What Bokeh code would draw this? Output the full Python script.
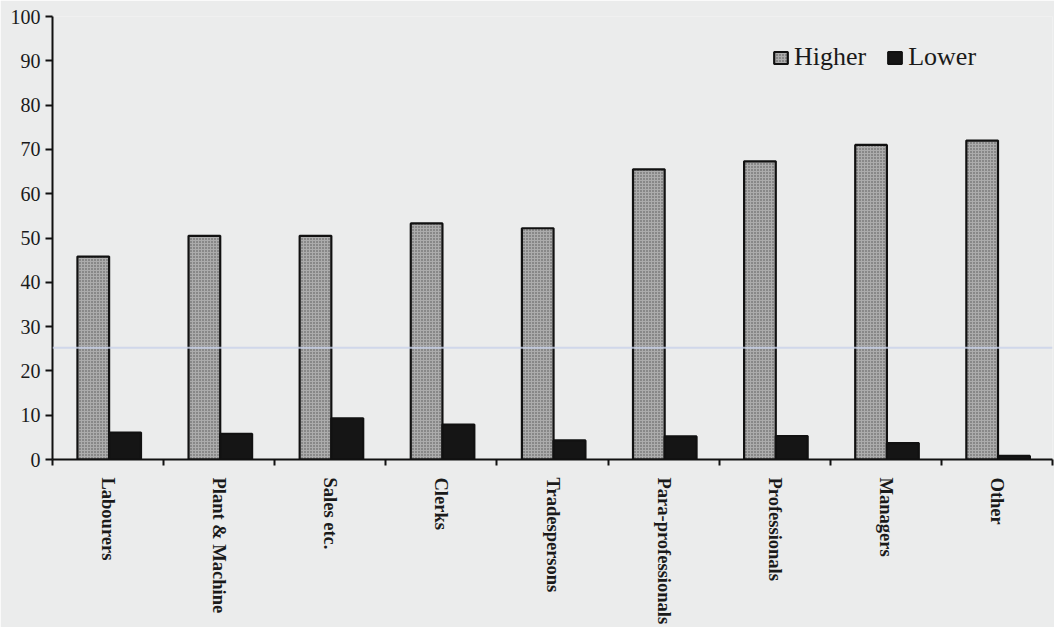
from bokeh.plotting import figure
from bokeh.models import (ColumnDataSource, FixedTicker, Range1d, Legend, LegendItem, Span)
from bokeh.transform import dodge
from bokeh.embed import file_html
from bokeh.resources import INLINE

categories = ["Labourers", "Plant & Machine", "Sales etc.", "Clerks", "Tradespersons",
              "Para-professionals", "Professionals", "Managers", "Other"]
higher = [45.8, 50.5, 50.5, 53.3, 52.2, 65.5, 67.3, 71.0, 72.0]
lower = [6.1, 5.8, 9.3, 7.9, 4.3, 5.2, 5.3, 3.7, 0.8]
y_ticks = list(range(0, 101, 10))

centers = [i + 0.5 for i in range(len(categories))]
source = ColumnDataSource(dict(x=centers, higher=higher, lower=lower))

BG = "#ebecec"
FONT = "Liberation Serif"

p = figure(width=1054, height=627, output_backend="svg", toolbar_location=None,
           x_range=Range1d(0, len(categories)), y_range=Range1d(0, 100),
           min_border_left=52, min_border_right=2, min_border_top=16, min_border_bottom=166,
           background_fill_color=BG, border_fill_color=BG)
p.outline_line_color = None
p.grid.visible = False

# faint scan line
p.add_layout(Span(location=25.2, dimension="width", line_color="#c9d2ea", line_width=2, line_alpha=0.8))

r_hi = p.vbar(x=dodge("x", -0.133, range=p.x_range), top="higher", width=0.285, source=source,
              fill_color="#acacac", hatch_pattern="dot", hatch_color="#3a3a3a", hatch_scale=3,
              hatch_alpha=0.8, line_color="#111111", line_width=2.2)
r_lo = p.vbar(x=dodge("x", 0.153, range=p.x_range), top="lower", width=0.287, source=source,
              fill_color="#151515", line_color="#111111", line_width=2.2)

# y axis
p.yaxis.ticker = FixedTicker(ticks=y_ticks)
p.yaxis.axis_line_width = 2
p.yaxis.axis_line_color = "#111111"
p.yaxis.major_tick_line_width = 2
p.yaxis.major_tick_line_color = "#111111"
p.yaxis.major_tick_out = 7
p.yaxis.major_tick_in = 0
p.yaxis.minor_tick_line_color = None
p.yaxis.major_label_text_font = FONT
p.yaxis.major_label_text_font_size = "20px"
p.yaxis.major_label_text_color = "#1a1a1a"
p.yaxis.major_label_standoff = 5

# x axis: labels at centres, ticks at boundaries
p.xaxis.ticker = FixedTicker(ticks=centers, minor_ticks=list(range(len(categories) + 1)))
p.xaxis.major_label_overrides = {c: lab for c, lab in zip(centers, categories)}
p.xaxis.major_tick_out = 0
p.xaxis.major_tick_in = 0
p.xaxis.minor_tick_out = 6
p.xaxis.minor_tick_in = 0
p.xaxis.minor_tick_line_width = 2
p.xaxis.minor_tick_line_color = "#111111"
p.xaxis.axis_line_width = 2
p.xaxis.axis_line_color = "#111111"
p.xaxis.major_label_orientation = "vertical"
p.xaxis.major_label_text_font = FONT
p.xaxis.major_label_text_font_size = "18.5px"
p.xaxis.major_label_text_font_style = "bold"
p.xaxis.major_label_text_color = "#1a1a1a"
p.xaxis.major_label_standoff = 12

legend = Legend(items=[LegendItem(label="Higher", renderers=[r_hi]),
                       LegendItem(label="Lower", renderers=[r_lo])],
                orientation="horizontal", location=(720, 387), margin=0, padding=0,
                background_fill_alpha=0, border_line_color=None,
                label_text_font=FONT, label_text_font_size="26px", label_text_color="#1a1a1a",
                glyph_width=17, glyph_height=15, spacing=20, label_standoff=5)
p.add_layout(legend)

open("out.html", "w").write(file_html(p, INLINE))
